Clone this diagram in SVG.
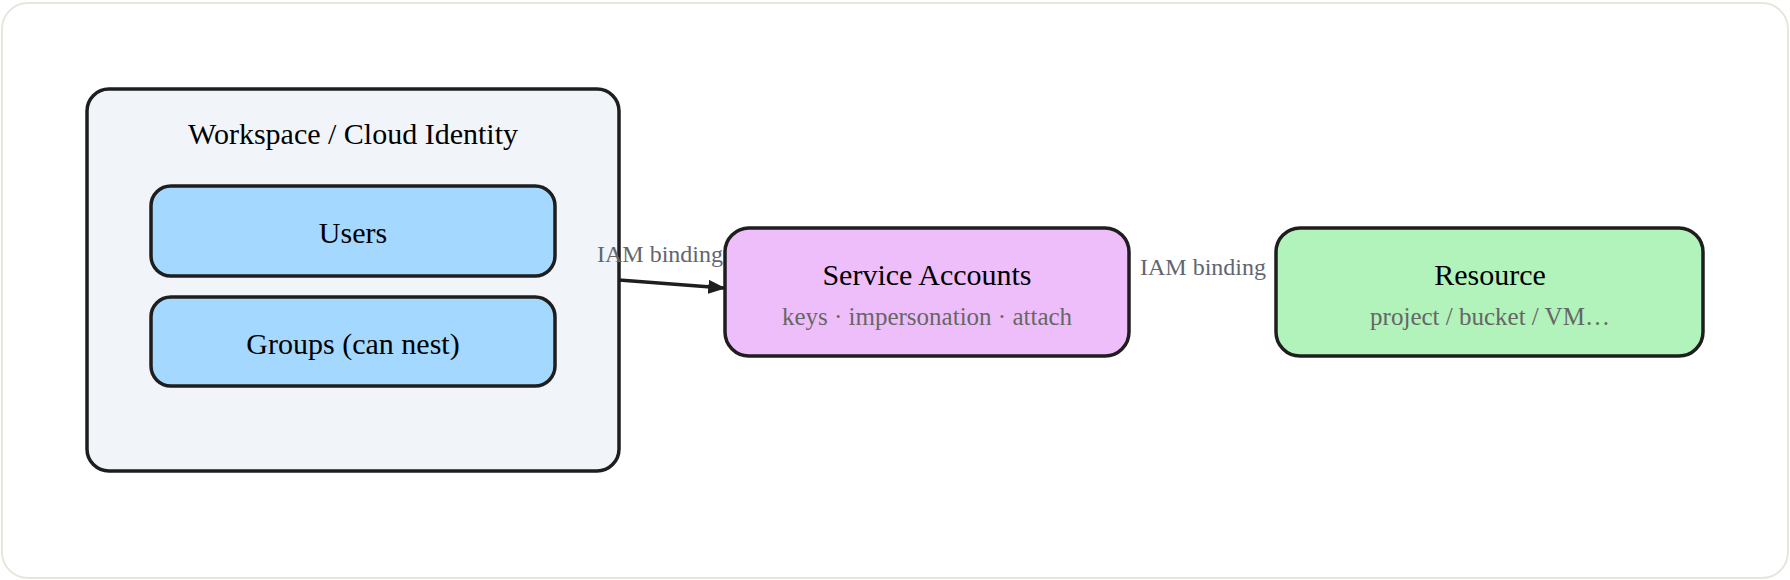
<svg xmlns="http://www.w3.org/2000/svg" width="1790" height="580" viewBox="0 0 1790 580">
<style>
text{font-family:"Liberation Serif",serif;text-anchor:middle}
.n{stroke:#1e1e1e;stroke-width:3.5}
.t{font-size:30px;fill:#000}
.s{font-size:25px;fill:#666}
.l{font-size:24px;fill:#5f6670}
</style>
<defs><marker id="a" viewBox="0 0 10 10" refX="9" refY="5" markerWidth="5" markerHeight="5" orient="auto"><path d="M0,1 L10,5 L0,9 z" fill="#1e1e1e"/></marker></defs>
<rect x="2" y="3" width="1786" height="575" rx="26" fill="#fff" stroke="#e6e6dc" stroke-width="2"/>
<g id="workspace"><rect class="n" x="87" y="89" width="532" height="382" rx="22" fill="#f1f5f9"/><text class="t" x="353" y="144">Workspace / Cloud Identity</text></g>
<g id="users"><rect class="n" x="151" y="186" width="404" height="90" rx="20" fill="#a5d8ff"/><text class="t" x="353" y="243">Users</text></g>
<g id="groups"><rect class="n" x="151" y="297" width="404" height="89" rx="20" fill="#a5d8ff"/><text class="t" x="353" y="354">Groups (can nest)</text></g>
<g id="sa"><rect class="n" x="725" y="228" width="404" height="128" rx="24" fill="#eebefa"/><text class="t" x="927" y="285">Service Accounts</text><text class="s" x="927" y="325">keys · impersonation · attach</text></g>
<g id="resource"><rect class="n" x="1276" y="228" width="427" height="128" rx="24" fill="#b2f2bb"/><text class="t" x="1490" y="285">Resource</text><text class="s" x="1490" y="325">project / bucket / VM…</text></g>
<g id="connectors">
<line x1="619" y1="280" x2="724" y2="288" stroke="#1e1e1e" stroke-width="3.5" marker-end="url(#a)"/>
<text class="l" x="660" y="262">IAM binding</text>
<text class="l" x="1203" y="275">IAM binding</text>
</g>
</svg>
